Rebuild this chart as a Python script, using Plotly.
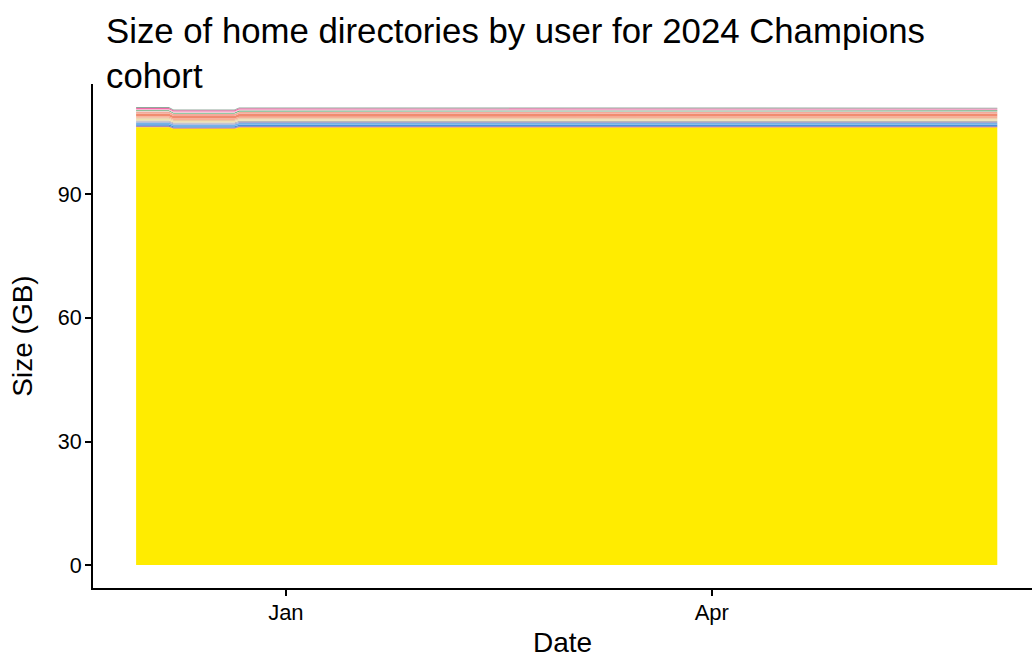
import plotly.graph_objects as go

dates = ["2023-11-30", "2023-12-07", "2023-12-08", "2023-12-21",
         "2023-12-22", "2024-03-10", "2024-03-11", "2024-06-01"]

# users listed bottom -> top of the stack, sizes in GB
users = ["user01", "user02", "user03", "user04", "user05", "user06", "user07",
         "user08", "user09", "user10", "user11", "user12", "user13", "user14",
         "user15", "user16", "user17"]

sizes = [
    [106.3, 106.3, 105.9, 105.9, 106.2, 106.2, 106.2, 106.2],
    [0.15, 0.15, 0.15, 0.15, 0.15, 0.15, 0.15, 0.15],
    [0.20, 0.20, 0.20, 0.20, 0.20, 0.20, 0.20, 0.20],
    [0.35, 0.35, 0.30, 0.30, 0.35, 0.35, 0.35, 0.35],
    [0.45, 0.45, 0.40, 0.40, 0.45, 0.45, 0.45, 0.45],
    [0.25, 0.25, 0.25, 0.25, 0.25, 0.25, 0.25, 0.25],
    [0.25, 0.25, 0.25, 0.25, 0.25, 0.25, 0.25, 0.25],
    [0.40, 0.40, 0.35, 0.35, 0.40, 0.40, 0.40, 0.40],
    [0.25, 0.25, 0.25, 0.25, 0.25, 0.25, 0.25, 0.25],
    [0.35, 0.35, 0.35, 0.35, 0.35, 0.35, 0.40, 0.40],
    [0.70, 0.70, 0.65, 0.65, 0.70, 0.70, 0.75, 0.75],
    [0.45, 0.45, 0.45, 0.45, 0.45, 0.45, 0.40, 0.40],
    [0.15, 0.15, 0.15, 0.15, 0.15, 0.15, 0.15, 0.15],
    [0.20, 0.20, 0.20, 0.20, 0.20, 0.20, 0.20, 0.20],
    [0.25, 0.25, 0.25, 0.25, 0.25, 0.25, 0.20, 0.20],
    [0.30, 0.30, 0.30, 0.30, 0.30, 0.30, 0.25, 0.25],
    [0.20, 0.20, 0.20, 0.20, 0.20, 0.20, 0.20, 0.20],
]

colors = ["#FFEC00", "#F5A640", "#8E6BB0", "#4A90D9", "#74B3E8", "#A9A6D0",
          "#B8B8B8", "#EFE0B0", "#E8C9A0", "#F8B195", "#F08C70", "#F4A99A",
          "#D9D9D9", "#3CA55C", "#F7C6D9", "#F06CA8", "#8FA89A"]

title_text = "Size of home directories by user for 2024 Champions<br>cohort"
x_ticks = ["2024-01-01", "2024-04-01"]
x_ticktext = ["Jan", "Apr"]
y_ticks = [0, 30, 60, 90]

fig = go.Figure()
for name, vals, col in zip(users, sizes, colors):
    fig.add_trace(go.Scatter(
        x=dates, y=vals, name=name, mode="lines", stackgroup="one",
        line=dict(width=0, color=col), fillcolor=col, showlegend=False,
    ))

font = "Liberation Sans, Arial, sans-serif"
L, R, T, B = 93, 0, 84, 70
W, H = 1032, 658
pw, ph = W - L - R, H - T - B

fig.update_layout(
    width=W, height=H,
    margin=dict(l=L, r=R, t=T, b=B, autoexpand=False),
    paper_bgcolor="white", plot_bgcolor="white",
    font=dict(family=font, color="black"),
    xaxis=dict(
        type="date", automargin=False,
        range=["2023-11-20 19:00", "2024-06-08 10:00"],
        tickvals=x_ticks, ticktext=x_ticktext,
        showgrid=False, zeroline=False,
        showline=True, linecolor="black", linewidth=2,
        ticks="outside", ticklen=6, tickwidth=2, tickcolor="black",
        tickfont=dict(size=22), ticklabelstandoff=-2,
        title=dict(text="Date", font=dict(size=28), standoff=11),
    ),
    yaxis=dict(
        automargin=False,
        range=[-5.56, 116.8],
        tickvals=y_ticks,
        showgrid=False, zeroline=False,
        showline=True, linecolor="black", linewidth=2,
        ticks="outside", ticklen=6, tickwidth=2, tickcolor="black",
        tickfont=dict(size=21.5), ticklabelstandoff=-1,
        title=dict(text="Size (GB)", font=dict(size=28), standoff=17),
    ),
    annotations=[dict(
        text=title_text, xref="paper", yref="paper",
        x=(104 - L) / pw, y=1 + (T - 10) / ph,
        xanchor="left", yanchor="top", align="left", showarrow=False,
        font=dict(size=34.75, family=font, color="black"),
    )],
)

fig.write_html(
    "out.html",
    config={"displayModeBar": False},
    post_script="document.body.style.margin='0';document.body.style.overflow='hidden';",
)
